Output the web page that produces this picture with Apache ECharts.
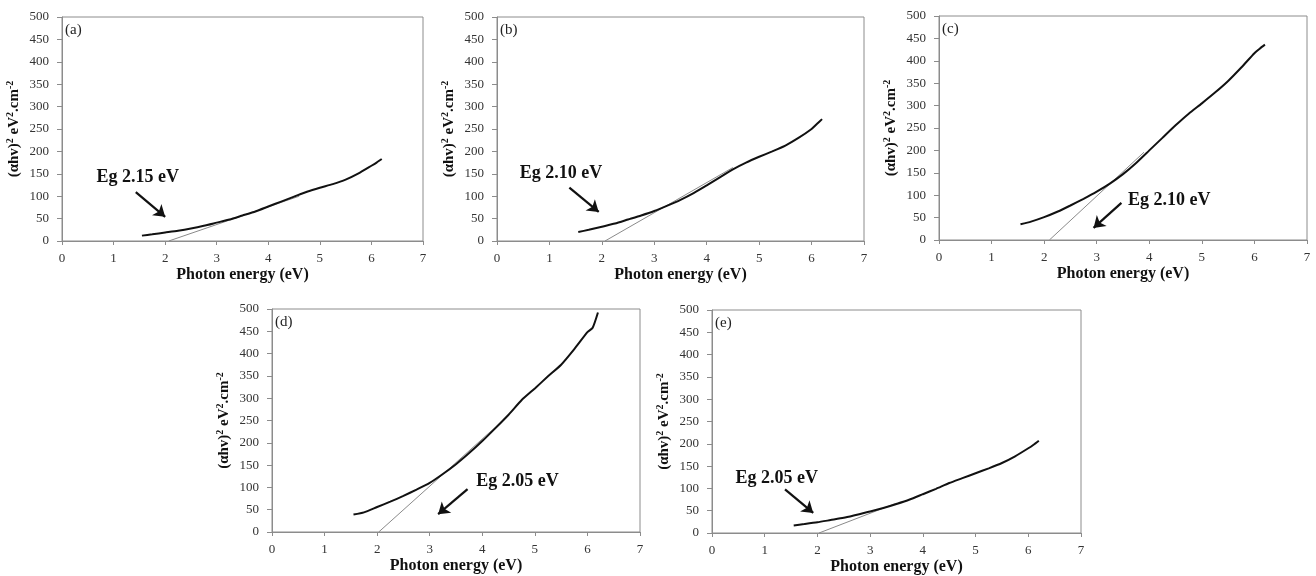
<!DOCTYPE html>
<html>
<head>
<meta charset="utf-8">
<title>Tauc plots</title>
<script src="https://cdn.jsdelivr.net/npm/echarts@6.0.0/dist/echarts.min.js"></script>
<style>
  html, body { margin: 0; padding: 0; background: #fff; }
  #main { width: 1316px; height: 576px; }
</style>
</head>
<body>
<div id="main"></div>
<script>
// photon energy (eV), shared by all five samples
var energy = [1.55, 1.75, 2.0, 2.25, 2.5, 2.75, 3.0, 3.25, 3.5, 3.75, 4.0, 4.25, 4.5, 4.75, 5.0, 5.25, 5.5, 5.75, 6.0, 6.1, 6.2];

// (αhv)^2 values
var valsA = [12, 15, 19, 23, 28, 34, 41, 48, 57, 66, 77, 88, 99, 110, 119, 127, 137, 151, 168, 175, 183];
var valsB = [20, 25, 32, 39, 48, 57, 67, 79, 92, 107, 124, 142, 160, 175, 188, 200, 213, 230, 250, 261, 272];
var valsC = [35, 41, 51, 63, 77, 92, 108, 126, 147, 172, 200, 228, 256, 282, 305, 329, 355, 385, 417, 427, 436];
var valsD = [39, 44, 56, 68, 81, 95, 110, 130, 152, 177, 204, 233, 263, 296, 322, 349, 375, 410, 448, 458, 492];
var valsE = [17, 20, 24, 29, 34, 41, 48, 56, 65, 75, 87, 99, 112, 123, 134, 145, 157, 172, 190, 198, 207];

// linear fits (start on x axis, end on the curve)
var fitA = [[2.07, 0], [4.6, 100]];
var fitB = [[2.06, 0], [4.5, 164]];
var fitC = [[2.10, 0], [3.9, 196]];
var fitD = [[2.03, 0], [4.4, 251]];
var fitE = [[2.03, 0], [3.5, 67]];

var panelNames = ['(a)', '(b)', '(c)', '(d)', '(e)'];
var gapLabels = ['Eg 2.15 eV', 'Eg 2.10 eV', 'Eg 2.10 eV', 'Eg 2.05 eV', 'Eg 2.05 eV'];
// text centre and arrow start/end, in data units
var gapText = [[1.47, 143], [1.22, 150], [4.38, 89], [4.67, 113], [1.23, 123]];
var arrowFrom = [[1.43, 109], [1.38, 119], [3.47, 83], [3.72, 96], [1.385, 98]];
var arrowTo = [[2.0, 54], [1.94, 65], [2.94, 27], [3.16, 40], [1.92, 45]];

var xTicks = { min: 0, max: 7, interval: 1 };
var yTicks = { min: 0, max: 500, interval: 50 };

var allVals = [valsA, valsB, valsC, valsD, valsE];
var allFits = [fitA, fitB, fitC, fitD, fitE];

// plot boxes in pixels
var boxes = [
  { left: 62, top: 17, width: 361, height: 224 },
  { left: 497, top: 17, width: 367, height: 224 },
  { left: 939, top: 16, width: 368, height: 224 },
  { left: 272, top: 309, width: 368, height: 223 },
  { left: 712, top: 310, width: 369, height: 223 }
];

var serif = "'Liberation Serif', 'Times New Roman', serif";

var grids = [], xAxes = [], yAxes = [], series = [], titles = [];

boxes.forEach(function (b, i) {
  grids.push({
    left: b.left, top: b.top, width: b.width, height: b.height,
    containLabel: false, outerBoundsMode: 'none',
    show: true, borderColor: '#8c8c8c', borderWidth: 1
  });

  xAxes.push({
    type: 'value', gridIndex: i,
    min: xTicks.min, max: xTicks.max, interval: xTicks.interval,
    name: 'Photon energy (eV)', nameLocation: 'middle', nameGap: 26,
    nameTextStyle: { fontFamily: serif, fontWeight: 'bold', fontSize: 16, color: '#111' },
    axisLine: { show: true, onZero: false, lineStyle: { color: '#8c8c8c', width: 1 } },
    axisTick: { show: true, inside: false, length: 4, lineStyle: { color: '#8c8c8c' } },
    axisLabel: { fontFamily: serif, fontSize: 13, color: '#333', margin: 11 },
    splitLine: { show: false }
  });

  yAxes.push({
    type: 'value', gridIndex: i,
    min: yTicks.min, max: yTicks.max, interval: yTicks.interval,
    name: '{b|(αhv)}{s|2}{b| eV}{s|2}{b|.cm}{s|-2}',
    nameLocation: 'middle', nameGap: 39,
    nameTextStyle: {
      rich: {
        b: { fontFamily: serif, fontWeight: 'bold', fontSize: 15, color: '#111', lineHeight: 18 },
        s: { fontFamily: serif, fontWeight: 'bold', fontSize: 10, color: '#111', lineHeight: 18, verticalAlign: 'top', padding: [0, 0, 6, 0] }
      }
    },
    axisLine: { show: true, onZero: false, lineStyle: { color: '#8c8c8c', width: 1 } },
    axisTick: { show: true, inside: false, length: 5, lineStyle: { color: '#8c8c8c' } },
    axisLabel: { fontFamily: serif, fontSize: 13, color: '#333', margin: 13 },
    splitLine: { show: false }
  });

  titles.push({
    text: panelNames[i], left: b.left + 3, top: b.top + 6, padding: 0,
    textStyle: { fontFamily: serif, fontWeight: 'normal', fontSize: 15, color: '#222' }
  });

  // fitted straight line, thin and grey
  series.push({
    type: 'line', xAxisIndex: i, yAxisIndex: i,
    data: allFits[i], symbol: 'none', silent: true,
    lineStyle: { color: '#8a8a8a', width: 1 }, z: 2
  });

  // measured curve plus the Eg arrow and text
  series.push({
    type: 'line', xAxisIndex: i, yAxisIndex: i,
    data: energy.map(function (e, k) { return [e, allVals[i][k]]; }),
    symbol: 'none', smooth: 0.2, silent: true,
    lineStyle: { color: '#111', width: 2 }, z: 3,
    markLine: {
      silent: true, symbol: ['none', 'arrow'], symbolSize: 11,
      lineStyle: { color: '#111', width: 2.2, type: 'solid' },
      itemStyle: { color: '#111' },
      label: { show: false },
      emphasis: { disabled: true },
      data: [[{ coord: arrowFrom[i] }, { coord: arrowTo[i] }]]
    },
    markPoint: {
      silent: true, symbol: 'circle', symbolSize: 0,
      label: {
        show: true, position: 'inside', formatter: gapLabels[i],
        fontFamily: serif, fontWeight: 'bold', fontSize: 18, color: '#111'
      },
      data: [{ coord: gapText[i] }]
    }
  });
});

var chart = echarts.init(document.getElementById('main'));
chart.setOption({
  animation: false,
  backgroundColor: '#fff',
  title: titles,
  grid: grids,
  xAxis: xAxes,
  yAxis: yAxes,
  series: series
});
</script>
</body>
</html>
